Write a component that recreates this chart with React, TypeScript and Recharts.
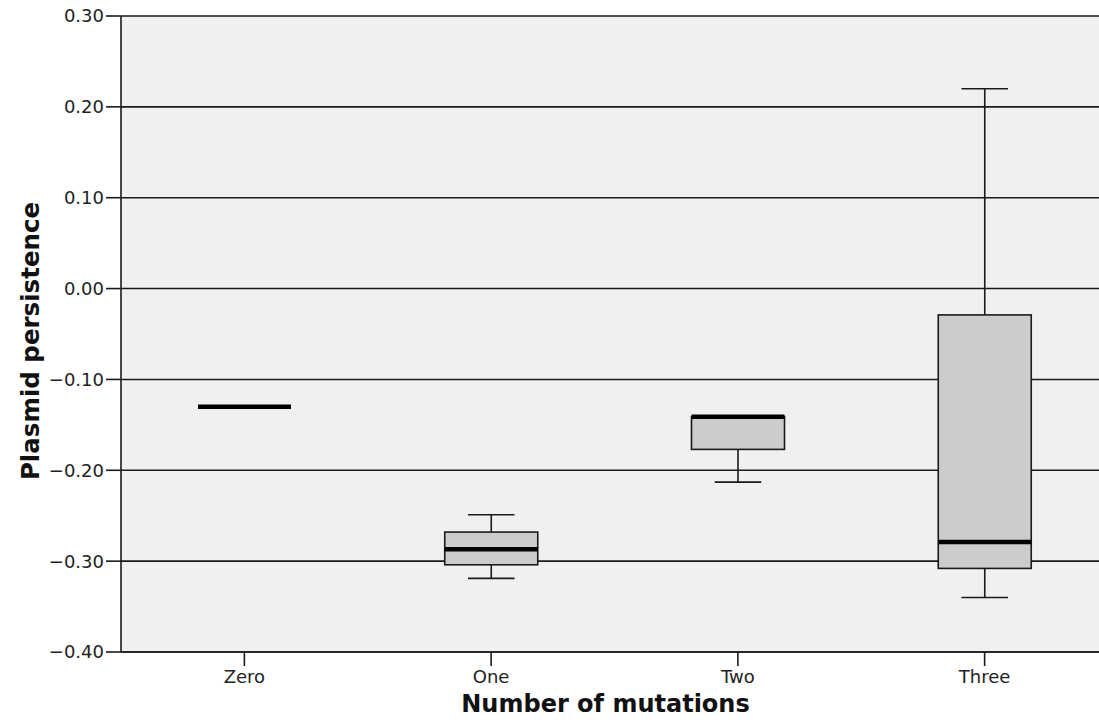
import React from "react"
import { ComposedChart, Bar, XAxis, YAxis, CartesianGrid, Label } from "recharts"

// box plot summary per group
const categories = ["Zero", "One", "Two", "Three"]
const minValues = [-0.13, -0.319, -0.213, -0.34]
const q1Values = [-0.13, -0.304, -0.177, -0.308]
const medianValues = [-0.13, -0.287, -0.141, -0.279]
const q3Values = [-0.13, -0.268, -0.141, -0.029]
const maxValues = [-0.13, -0.249, -0.141, 0.22]

const yTicks = [-0.4, -0.3, -0.2, -0.1, 0, 0.1, 0.2, 0.3]

const data = categories.map((name, i) => ({
  name,
  min: minValues[i],
  q1: q1Values[i],
  median: medianValues[i],
  q3: q3Values[i],
  max: maxValues[i],
}))

const fmt = (v: number) => {
  const s = Math.abs(v).toFixed(2)
  return v < -1e-9 ? "\u2212" + s : s
}

function BoxShape(props: any) {
  const { x, y, width, height, payload } = props
  const { min, q1, median, q3, max } = payload
  const span = max - min
  // map a value into the pixel range the library gave for [min, max]
  const py = (v: number) => (span === 0 ? y : y + (height * (max - v)) / span)
  const cx = x + width / 2
  const cap = width / 4
  const line = "#1a1a1a"
  return (
    <g>
      {max > q3 && (
        <>
          <line x1={cx} x2={cx} y1={py(max)} y2={py(q3)} stroke={line} strokeWidth={1.6} />
          <line x1={cx - cap} x2={cx + cap} y1={py(max)} y2={py(max)} stroke={line} strokeWidth={1.6} />
        </>
      )}
      {min < q1 && (
        <>
          <line x1={cx} x2={cx} y1={py(q1)} y2={py(min)} stroke={line} strokeWidth={1.6} />
          <line x1={cx - cap} x2={cx + cap} y1={py(min)} y2={py(min)} stroke={line} strokeWidth={1.6} />
        </>
      )}
      {q3 > q1 && (
        <rect
          x={x}
          y={py(q3)}
          width={width}
          height={py(q1) - py(q3)}
          fill="#cccccc"
          stroke={line}
          strokeWidth={1.6}
        />
      )}
      <line x1={x} x2={x + width} y1={py(median)} y2={py(median)} stroke="#000" strokeWidth={4.5} />
    </g>
  )
}

export default function App() {
  const tick = { fill: "#222", fontSize: 18, fontFamily: "DejaVu Sans" }
  return (
    <div
      style={{
        position: "absolute",
        left: 0,
        top: 0,
        width: 1099,
        height: 722,
        overflow: "hidden",
        background: "#fff",
      }}
    >
      <ComposedChart
        width={1108}
        height={722}
        data={data}
        margin={{ top: 16, right: 0, left: 0, bottom: 0 }}
      >
        <CartesianGrid vertical={false} fill="#f0f0f0" stroke="#1a1a1a" strokeWidth={1.6} />
        <XAxis
          dataKey="name"
          height={70}
          tick={tick}
          tickSize={14}
          tickMargin={4}
          axisLine={{ stroke: "#1a1a1a", strokeWidth: 1.6 }}
          tickLine={{ stroke: "#1a1a1a", strokeWidth: 1.6 }}
        >
          <Label
            content={(p: any) => {
              const vb = p.viewBox
              return (
                <text
                  x={vb.x + vb.width / 2 - 9}
                  y={vb.y + 60}
                  textAnchor="middle"
                  fontFamily="DejaVu Sans"
                  fontWeight="bold"
                  fontSize={24}
                  fill="#111"
                >
                  Number of mutations
                </text>
              )
            }}
          />
        </XAxis>
        <YAxis
          type="number"
          domain={[-0.4, 0.3]}
          ticks={yTicks}
          width={121}
          tick={tick}
          tickFormatter={fmt}
          tickSize={15}
          tickMargin={2}
          interval={0}
          axisLine={{ stroke: "#1a1a1a", strokeWidth: 1.6 }}
          tickLine={{ stroke: "#1a1a1a", strokeWidth: 1.6 }}
        >
          <Label
            content={(p: any) => {
              const vb = p.viewBox
              const lx = vb.x + 39
              const ly = vb.y + vb.height / 2 + 7
              return (
                <text
                  x={lx}
                  y={ly}
                  transform={`rotate(-90, ${lx}, ${ly})`}
                  textAnchor="middle"
                  fontFamily="DejaVu Sans"
                  fontWeight="bold"
                  fontSize={24.5}
                  fill="#111"
                >
                  Plasmid persistence
                </text>
              )
            }}
          />
        </YAxis>
        <Bar
          dataKey={(d: any) => [d.min, d.max]}
          barSize={93}
          shape={<BoxShape />}
          isAnimationActive={false}
        />
      </ComposedChart>
    </div>
  )
}
